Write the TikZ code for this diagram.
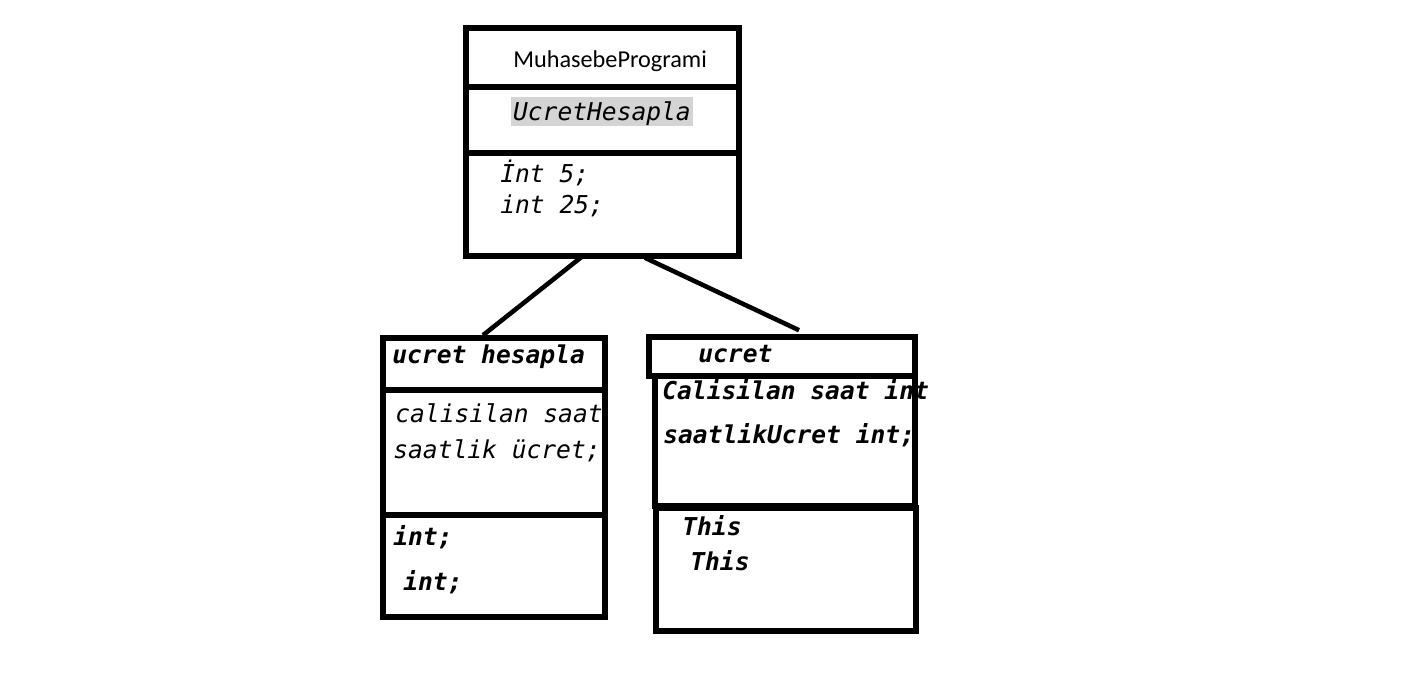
\documentclass[tikz,border=0pt]{standalone}
\usepackage{fontspec}
\setmainfont{Carlito}
\newfontfamily\codefont{DejaVu Sans Mono}
\begin{document}
\begin{tikzpicture}[x=0.02cm, y=-0.02cm,
    box/.style={draw, line width=3.2pt, inner sep=0pt},
    code/.style={anchor=base west, inner sep=0pt, font=\codefont\itshape\fontsize{14pt}{17pt}\selectfont},
    bcode/.style={code, font=\codefont\bfseries\itshape\fontsize{14pt}{17pt}\selectfont},
    conn/.style={line width=2.6pt}]
                \useasboundingbox (0,0) rectangle (1423,691);
                % ust sinif
                \node[box, minimum width=5.46cm, minimum height=1.18cm] (mpname) at (602.5,57.5) {};
                \node[box, minimum width=5.46cm, minimum height=1.32cm] (mpmethod) at (602.5,120) {};
                \node[box, minimum width=5.46cm, minimum height=2.06cm] (mpvars) at (602.5,204.5) {};
                \node[anchor=base west, inner sep=0pt, font=\fontsize{13.8pt}{16pt}\selectfont] (mptitle) at (513,67) {MuhasebeProgrami};
                \node[code, fill=black!17, inner xsep=1pt, text height=0.47cm, text depth=0.11cm] (mphl) at (511,120) {UcretHesapla};
                \node[code] (mpv1) at (500,182) {İnt 5;};
                \node[code] (mpv2) at (500,213) {int 25;};
                % sol sinif
                \node[box, minimum width=4.44cm, minimum height=1.04cm] (lefthead) at (494,364) {};
                \node[box, minimum width=4.44cm, minimum height=2.5cm] (leftvars) at (494,452.5) {};
                \node[box, minimum width=4.44cm, minimum height=2.04cm] (lefttypes) at (494,566) {};
                \node[bcode] (lh) at (392,363) {ucret hesapla};
                \node[code] (lv1) at (395,422) {calisilan saat};
                \node[code] (lv2) at (393,458) {saatlik ücret;};
                \node[bcode] (lt1) at (393,545) {int;};
                \node[bcode] (lt2) at (403,590) {int;};
                % sag sinif
                \node[box, minimum width=5.32cm, minimum height=0.78cm] (righthead) at (782,356.5) {};
                \node[box, minimum width=5.2cm, minimum height=2.6cm] (rightvars) at (785,441) {};
                \node[box, minimum width=5.2cm, minimum height=2.46cm] (rightthis) at (786,569.5) {};
                \node[bcode] (rh) at (698,362) {ucret};
                \node[bcode] (rv1) at (662,399) {Calisilan saat int};
                \node[bcode] (rv2) at (663,443) {saatlikUcret int;};
                \node[bcode] (rt1) at (682,535) {This};
                \node[bcode] (rt2) at (690,570) {This};
                % baglantilar
                \draw[conn] ([xshift=-0.39cm,yshift=0.06cm]mpvars.south) -- ([xshift=-0.22cm]lefthead.north);
                \draw[conn] ([xshift=0.85cm,yshift=0.02cm]mpvars.south) -- ([xshift=0.34cm,yshift=0.08cm]righthead.north);
            \end{tikzpicture}
\end{document}
